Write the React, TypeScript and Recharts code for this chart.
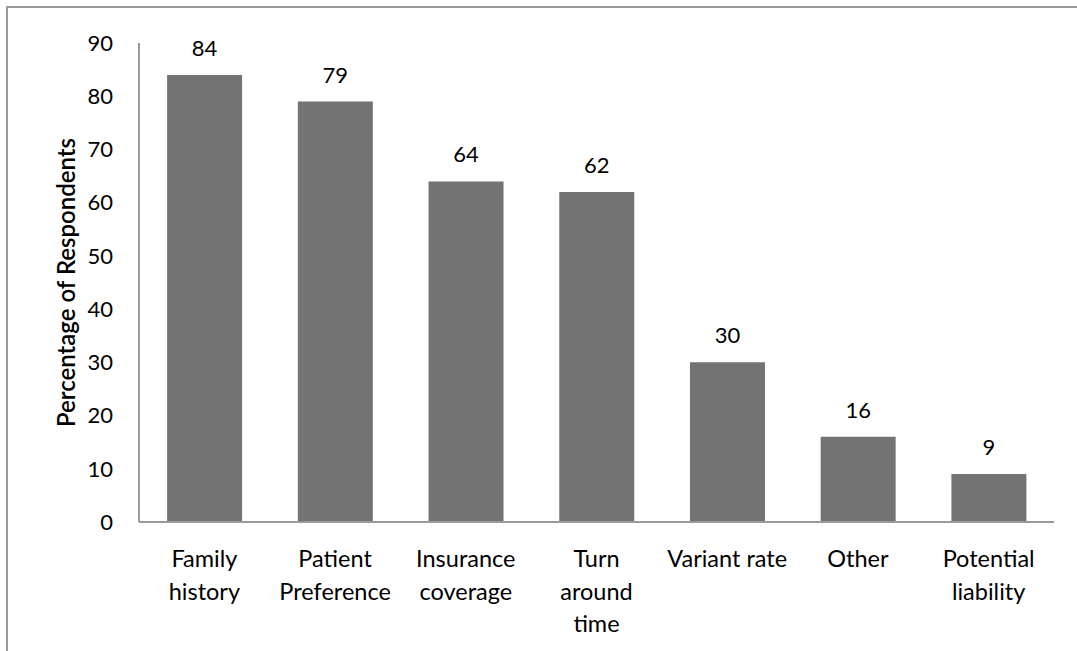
import React from 'react';
import { BarChart, Bar, XAxis, YAxis, LabelList } from 'recharts';

const categories = ['Family history', 'Patient Preference', 'Insurance coverage', 'Turn around time', 'Variant rate', 'Other', 'Potential liability'];
const tickLines = [['Family', 'history'], ['Patient', 'Preference'], ['Insurance', 'coverage'], ['Turn', 'around', 'time'], ['Variant rate'], ['Other'], ['Potential', 'liability']];
const values = [84, 79, 64, 62, 30, 16, 9];
const yTicks = [0, 10, 20, 30, 40, 50, 60, 70, 80, 90];

const data = categories.map((name, i) => ({ name, value: values[i] }));

const FONT = 'Lato, "Open Sans", sans-serif';

const CategoryTick = (props: any) => {
  const { x, y, index } = props;
  const lines = tickLines[index] || [];
  return (
    <text x={x} y={y} textAnchor="middle" fill="#000" fontSize={23.5} fontFamily={FONT}>
      {lines.map((l, i) => (
        <tspan key={i} x={x} y={y + 37 + i * 32.5}>{l}</tspan>
      ))}
    </text>
  );
};

const YTitle = (props: any) => {
  const { viewBox } = props;
  const cy = viewBox.y + viewBox.height / 2;
  return (
    <text x={65} y={cy} transform={`rotate(-90, 65, ${cy})`} textAnchor="middle" dominantBaseline="central"
      fontSize={24} fontWeight={600} fontFamily={FONT} fill="#000">
      Percentage of Respondents
    </text>
  );
};

export default function App() {
  return (
    <div style={{ position: 'absolute', left: 0, top: 0, width: 1077, height: 651, overflow: 'hidden', background: '#fff' }}>
      <div style={{ position: 'absolute', left: 6, top: 6, width: 1200, height: 800, border: '2px solid #9a9a9a' }} />
      <div style={{ position: 'absolute', left: 0, top: 0 }}>
        <BarChart width={1077} height={651} data={data} margin={{ top: 43, right: 23, left: 0, bottom: 0 }} barCategoryGap="21.5%">
          <XAxis dataKey="name" axisLine={{ stroke: '#9a9a9a', strokeWidth: 2 }} tickLine={false} tick={<CategoryTick />} interval={0} height={129} />
          <YAxis domain={[0, 90]} ticks={yTicks} width={139} axisLine={{ stroke: '#9a9a9a', strokeWidth: 2 }} tickLine={false}
            tickSize={0} tickMargin={26} interval={0}
            tick={{ fill: '#000', fontSize: 22, fontFamily: FONT }} label={<YTitle />} />
          <Bar dataKey="value" fill="#737373" isAnimationActive={false}>
            <LabelList dataKey="value" position="top" offset={19} fill="#000" fontSize={22} fontFamily={FONT} />
          </Bar>
        </BarChart>
      </div>
    </div>
  );
}
